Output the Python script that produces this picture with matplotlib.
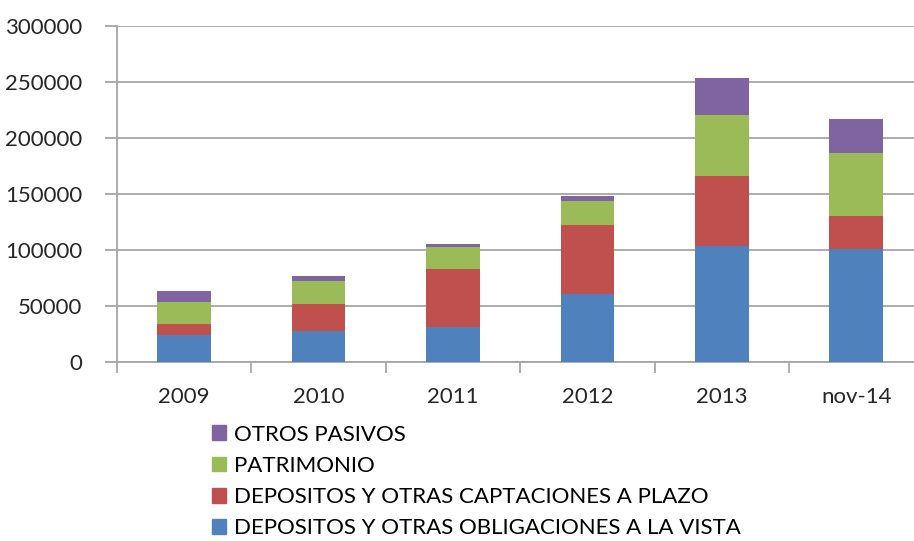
import numpy as np
import matplotlib.pyplot as plt
from matplotlib.patches import Patch

years = ['2009', '2010', '2011', '2012', '2013', 'nov-14']
vista = [24300, 27600, 30900, 61000, 103400, 100700]
plazo = [9300, 24100, 51700, 61700, 62600, 30000]
patrimonio = [20400, 20500, 20500, 21400, 54700, 55800]
otros = [9300, 4700, 2300, 4100, 33300, 30600]

series = [
    ('DEPOSITOS Y OTRAS OBLIGACIONES A LA VISTA', vista, '#4F81BD'),
    ('DEPOSITOS Y OTRAS CAPTACIONES A PLAZO', plazo, '#C0504D'),
    ('PATRIMONIO', patrimonio, '#9BBB59'),
    ('OTROS PASIVOS', otros, '#8064A2'),
]

plt.rcParams['font.family'] = ['Lato', 'DejaVu Sans']
fig = plt.figure(figsize=(9.14, 5.41), dpi=100)
# axes runs slightly past the right edge, like the original
ax = fig.add_axes([117 / 914, 1 - 362 / 541, 806.4 / 914, 336 / 541])

x = np.arange(len(years))
bottom = np.zeros(len(years))
for name, vals, col in series:
    ax.bar(x, vals, 0.4, bottom=bottom, color=col, zorder=3)
    bottom += np.array(vals)

ax.set_xlim(-0.5, len(years) - 0.5)
ax.set_ylim(0, 300000)
ax.set_yticks(np.arange(0, 300001, 50000))
ax.yaxis.grid(True, color='#a6a6a6', lw=1.3, zorder=0)
ax.set_xticks(x)
ax.set_xticklabels(years)
ax.set_xticks(np.arange(-0.5, len(years)), minor=True)
ax.tick_params(axis='x', which='major', length=0, pad=18, labelsize=16, colors='#262626')
ax.tick_params(axis='x', which='minor', length=8, color='#a6a6a6', width=1.3)
ax.tick_params(axis='y', length=9, color='#a6a6a6', width=1.3, pad=16, labelsize=16,
               labelcolor='#262626')
for s in ['top', 'right']:
    ax.spines[s].set_visible(False)
for s in ['left', 'bottom']:
    ax.spines[s].set_color('#a6a6a6')
    ax.spines[s].set_linewidth(1.3)

handles = [Patch(color=c, label=n) for n, v, c in series[::-1]]
fig.legend(handles=handles, loc='upper left', bbox_to_anchor=(0.232, 0.215),
           frameon=False, fontsize=16, handlelength=0.65, handleheight=0.65,
           handletextpad=0.35, labelspacing=0.5, borderaxespad=0, borderpad=0)

fig.savefig('out.png', dpi=100)
